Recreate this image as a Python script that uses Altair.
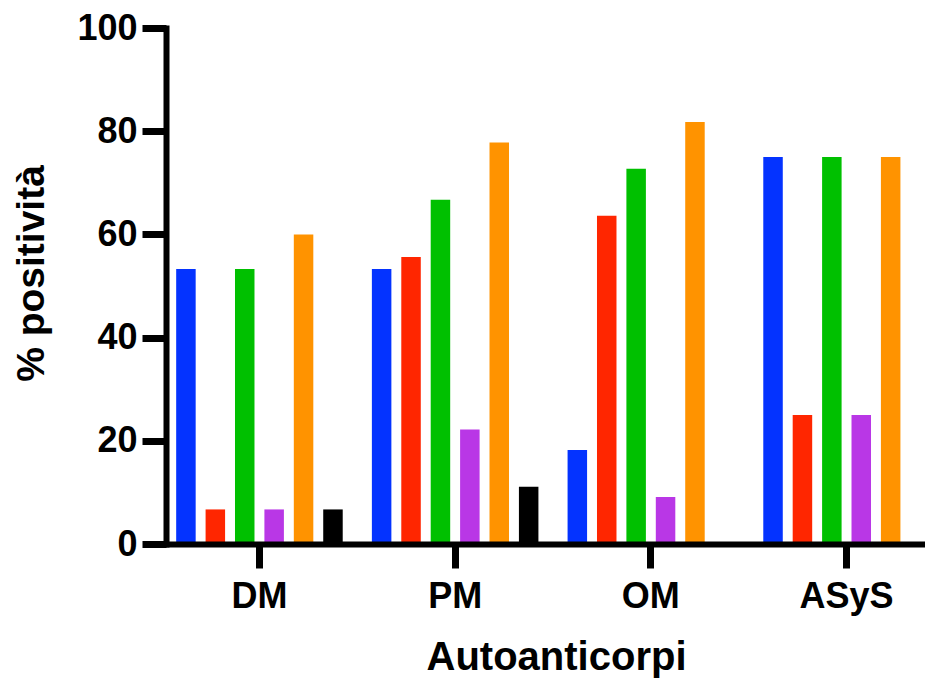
import altair as alt
import pandas as pd

groups = ["DM", "PM", "OM", "ASyS"]
series = ["Serie 1", "Serie 2", "Serie 3", "Serie 4", "Serie 5", "Serie 6"]
colors = ["#0433FF", "#FF2600", "#00C000", "#B937E6", "#FF9300", "#000000"]

s1 = [53.3, 53.3, 18.2, 75.0]
s2 = [6.7, 55.6, 63.6, 25.0]
s3 = [53.3, 66.7, 72.7, 75.0]
s4 = [6.7, 22.2, 9.1, 25.0]
s5 = [60.0, 77.8, 81.8, 75.0]
s6 = [6.7, 11.1, 0.0, 0.0]

y_ticks = [0, 20, 40, 60, 80, 100]

rows = []
for name, vals in zip(series, [s1, s2, s3, s4, s5, s6]):
    for g, v in zip(groups, vals):
        rows.append({"group": g, "series": name, "value": v})
df = pd.DataFrame(rows)

font = "Liberation Sans"

chart = alt.Chart(df).mark_bar().encode(
    x=alt.X(
        "group:N", sort=groups, title="Autoanticorpi",
        scale=alt.Scale(paddingInner=0.149, paddingOuter=0.052),
        axis=alt.Axis(
            labelAngle=0, labelFont=font, labelFontSize=36, labelFontWeight="bold",
            labelColor="black", labelPadding=11, tickSize=24, tickWidth=7,
            tickColor="black", domainWidth=6, domainColor="black", domainCap="square",
            titleFont=font, titleFontSize=40, titleFontWeight="bold", titleColor="black",
            titleBaseline="alphabetic", titleY=125.5, titleX=390, zindex=1,
        ),
    ),
    xOffset=alt.XOffset("series:N", sort=series,
                        scale=alt.Scale(paddingInner=0.337, paddingOuter=0)),
    y=alt.Y(
        "value:Q", title="% positività",
        scale=alt.Scale(domain=[0, 100]),
        axis=alt.Axis(
            values=y_ticks, grid=False, labelFont=font, labelFontSize=36,
            labelFontWeight="bold", labelColor="black", labelPadding=5,
            tickSize=24, tickWidth=7, tickColor="black", domainWidth=6,
            domainColor="black", domainCap="square", titleFont=font, titleFontSize=39,
            titleFontWeight="bold", titleColor="black", titleAngle=270,
            titleBaseline="alphabetic", titleX=-123, titleY=245, zindex=1,
        ),
    ),
    color=alt.Color("series:N", sort=series,
                    scale=alt.Scale(domain=series, range=colors), legend=None),
).properties(
    width=774, height=516,
    autosize=alt.AutoSizeParams(type="none"),
    padding={"left": 158, "top": 20, "right": -15, "bottom": 134},
).configure_view(stroke=None)

chart.save("out.html", embed_options={"renderer": "svg", "actions": False})
